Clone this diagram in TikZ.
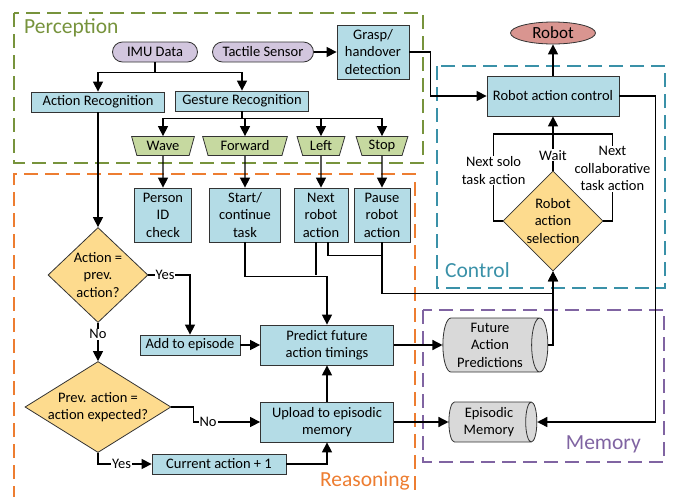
\documentclass[tikz,border=0pt]{standalone}
\usepackage{fontspec}
\setmainfont{Carlito}
\definecolor{box blue}{HTML}{B4DCE6}
\definecolor{gesture green}{HTML}{C6D9A0}
\definecolor{sensor purple}{HTML}{D2C6DE}
\definecolor{decision yellow}{HTML}{FDDB8E}
\definecolor{robot red}{HTML}{D99590}
\definecolor{memory gray}{HTML}{D9D9D9}
\definecolor{perception green}{HTML}{77933C}
\definecolor{reasoning orange}{HTML}{ED7D31}
\definecolor{control teal}{HTML}{3A91A8}
\definecolor{memory purple}{HTML}{8064A2}
\usetikzlibrary{positioning,arrows.meta,shapes.geometric}
\tikzstyle{line} = [line width=1.4pt]
\tikzstyle{line>} = [line,-{Triangle[length=10pt, width=10pt]}]
\tikzstyle{step box} = [draw=black!80, line width=0.8pt, fill=box blue, minimum height=20, inner sep=1pt, align=center]
\tikzstyle{sensor node} = [draw=black!80, line width=0.8pt, fill=sensor purple, rounded corners=10, minimum height=20, inner sep=1pt]
\tikzstyle{gesture node} = [draw=black!80, line width=0.8pt, fill=gesture green, trapezium, trapezium angle=73, shape border rotate=180, trapezium stretches=true, minimum height=19, inner sep=1pt]
\tikzstyle{decision node} = [draw=black!80, line width=0.8pt, fill=decision yellow, diamond, inner sep=0pt]
\tikzstyle{memory node} = [draw=black!80, line width=0.8pt, fill=memory gray, cylinder, shape aspect=0.35, inner sep=1pt, align=center]
\tikzstyle{region} = [line width=1.3pt, dash pattern=on 14pt off 7pt]
\tikzstyle{region label} = [font=\fontsize{21.5}{24}\selectfont, inner sep=0pt]
\tikzstyle{edge label} = [fill=white, inner sep=1pt, align=center]

\begin{document}
\begin{tikzpicture}[x=1pt,y=-1pt,font=\fontsize{14.5}{17.5}\selectfont]
        \useasboundingbox (0,0) rectangle (683,496);
        % regions
        \draw[region,draw=perception green] (14,13) rectangle (423,163);
        \draw[region,draw=reasoning orange] (14,500) -- (14,174) -- (415,174) -- (415,500);
        \draw[region,draw=control teal] (437,66) rectangle (665,288);
        \draw[region,draw=memory purple] (423,310) rectangle (664,462);
        \node[region label,text=perception green,anchor=west] (perception) at (24,28) {Perception};
        \node[region label,text=reasoning orange,anchor=east] (reasoning) at (410,481) {Reasoning};
        \node[region label,text=control teal,anchor=west] (control) at (445,270) {Control};
        \node[region label,text=memory purple,anchor=east] (memory) at (641,444) {Memory};
        
        % perception
        \node[sensor node,minimum width=85] (imu) at (155,52) {IMU Data};
        \node[sensor node,minimum width=101] (tactile) at (263,52) {Tactile Sensor};
        \node[step box,minimum width=72,minimum height=54] (grasp) at (373,52) {Grasp/\\handover\\detection};
        \node[step box,minimum width=133] (action-rec) at (98,102) {Action Recognition};
        \node[step box,minimum width=133] (gesture-rec) at (242,101) {Gesture Recognition};
        \node[gesture node,minimum width=63] (wave) at (163,146) {Wave};
        \node[gesture node,minimum width=85] (forward) at (245,146) {Forward};
        \node[gesture node,minimum width=48] (left) at (321,146) {Left};
        \node[gesture node,minimum width=52] (stop) at (382,146) {Stop};
        
        % reasoning
        \node[step box,minimum width=57,minimum height=54] (person) at (163,215) {Person\\ID\\check};
        \node[step box,minimum width=71,minimum height=54] (start) at (245,215) {Start/\\continue\\task};
        \node[step box,minimum width=54,minimum height=54] (next) at (321,215) {Next\\robot\\action};
        \node[step box,minimum width=56,minimum height=54] (pause) at (382,215) {Pause\\robot\\action};
        \node[decision node,minimum width=100,minimum height=95,label={[align=center]center:Action =\\prev.\\action?}] (same) at (98,275) {};
        \node[decision node,minimum width=146,minimum height=91,label={[align=center]center:Prev. action =\\action expected?}] (expected) at (98,407) {};
        \node[step box,minimum width=100] (add) at (190,345) {Add to episode};
        \node[step box,minimum width=133,minimum height=40] (predict) at (327,345) {Predict future\\action timings};
        \node[step box,minimum width=133,minimum height=40] (upload) at (327,422) {Upload to episodic\\memory};
        \node[step box,minimum width=134] (current) at (219,464) {Current action + 1};
        
        % control
        \node[draw=black!80,line width=0.8pt,fill=robot red,ellipse,minimum width=85,minimum height=22,inner sep=0pt,font=\fontsize{17}{20}\selectfont] (robot) at (553,33) {Robot};
        \node[step box,minimum width=132,minimum height=40] (robot-control) at (553,96) {Robot action control};
        \node[decision node,minimum width=100,minimum height=100,label={[align=center]center:Robot\\action\\selection}] (select) at (553,221) {};
        \coordinate (wait-join) at (553,134);
        
        % memory
        \node[memory node,minimum width=54,minimum height=105] (future) at (490,345) {Future\\Action\\Predictions};
        \node[memory node,minimum width=40,minimum height=88] (episodic) at (489,422) {Episodic\\Memory};
        
        \draw[line>] (imu.south) -- ++(0,10) -| (action-rec);
        \draw[line>] (imu.south) -- ++(0,10) -| (gesture-rec);
        \draw[line>] (tactile) -- (grasp);
        \draw[line>] (grasp.east) -- ++(21,0) |- (robot-control);
        \draw[line>] (robot-control) -- (robot);
        \draw[line>] (gesture-rec.south) -- ++(0,7) -| (wave);
        \draw[line>] (gesture-rec.south) -- ++(0,7) -| (forward);
        \draw[line>] (gesture-rec.south) -- ++(0,7) -| (left);
        \draw[line>] (gesture-rec.south) -- ++(0,7) -| (stop);
        \draw[line>] (wave) -- (person);
        \draw[line>] (forward) -- (start);
        \draw[line>] (left) -- (next);
        \draw[line>] (stop) -- (pause);
        
        \draw[line>] (start.south) -- ++(0,34) -| (predict);
        \draw[line] ([xshift=-5pt]next.south) -- ++(0,33);
        \draw[line] ([xshift=7pt]next.south) -- ++(0,13) -| (pause.south);
        \draw[line>] (pause.south) -- ++(0,51) -| (select);
        
        \draw[line>] (action-rec) -- (same);
        \draw[line>] (same) -| node[edge label,pos=0.2] {Yes} (add);
        \draw[line>] (same) -- node[edge label,pos=0.3] {No} (expected);
        \draw[line>] (add) -- (predict);
        \draw[line>] (expected.east) -- ++(22,0) |- node[edge label,pos=0.61] {No} (upload);
        \draw[line>] (expected) |- node[edge label,pos=0.72] {Yes} (current);
        \draw[line>] (current) -| (upload);
        \draw[line>] (upload) -- (predict);
        \draw[line>] (predict) -- (future);
        \draw[line>] (upload) -- (episodic);
        \draw[line>] (future.east) -| (select);
        
        \draw[line>] (select) -- node[edge label,pos=0.28] {Wait} (robot-control);
        \draw[line] (select.west) -- ++(-9,0) |- node[edge label,pos=0.29] {Next solo\\task action} (wait-join);
        \draw[line] (select.east) -- ++(9,0) |- node[edge label,pos=0.3] {Next\\collaborative\\task action} (wait-join);
        \draw[line>] (robot-control.east) -- ++(36,0) |- (episodic.east);
        
    \end{tikzpicture}
\end{document}
